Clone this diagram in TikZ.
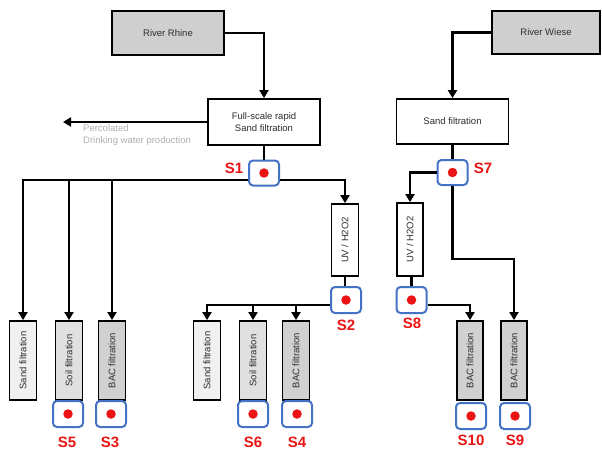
\documentclass[tikz,border=0pt]{standalone}
\usepackage{fontspec}
\setmainfont{Liberation Sans}
\usepackage{graphicx}
\usetikzlibrary{arrows.meta}
\definecolor{sblue}{RGB}{68,114,196}
\definecolor{sred}{RGB}{235,20,20}
\definecolor{txtgray}{RGB}{45,45,45}
\definecolor{percgray}{RGB}{175,175,175}
\begin{document}
\begin{tikzpicture}[x=1pt,y=-1pt,
  proc/.style={draw=black, line width=1.8pt, inner sep=0pt, text=txtgray, font=\fontsize{9.5}{11.5}\selectfont, align=center},
  river/.style={proc, fill=black!19, minimum height=44pt},
  wide/.style={proc, fill=white, minimum width=112pt, minimum height=45pt},
  vbox/.style={proc, minimum width=27pt, minimum height=79pt},
  sandf/.style={vbox, fill=black!6},
  soilf/.style={vbox, fill=black!12},
  bacf/.style={vbox, fill=black!18},
  uvbox/.style={proc, fill=white, minimum width=27pt, minimum height=72pt},
  sample/.style={draw=sblue, line width=2pt, rounded corners=4pt, fill=white, minimum width=30pt, minimum height=25pt, inner sep=0pt},
  dot/.style={circle, fill=sred, minimum size=9.5pt, inner sep=0pt},
  slabel/.style={text=sred, font=\fontsize{15}{15}\selectfont\bfseries, inner sep=0pt},
  conn/.style={line width=2.1pt, draw=black},
  arr/.style={conn, -{Triangle[width=9pt,length=8pt]}}
]
\useasboundingbox (0,0) rectangle (602,450);

% top row
\node[river, minimum width=112pt] (rhine) at (168,33) {River Rhine};
\node[river, minimum width=108pt, minimum height=43pt] (wiese) at (546,32.5) {River Wiese};

\node[wide, minimum height=46pt] (fsrsf) at (264,122) {Full-scale rapid\\Sand filtration};
\node[wide] (sandR) at (452.5,121.5) {Sand filtration};

\coordinate (perc) at (63,122);
\node[anchor=north west, inner sep=0pt, text=percgray, font=\fontsize{9.5}{12}\selectfont, align=left] (perctxt) at (83,124) {Percolated\\Drinking water production};

% sample points
\node[sample] (s1) at (264,173) {};
\node[dot] at (s1) {};
\node[slabel] (l1) at (234,168) {S1};

\node[sample] (s7) at (452.5,172.5) {};
\node[dot] at (s7) {};
\node[slabel] (l7) at (483,168) {S7};

% UV boxes
\node[uvbox] (uv1) at (345,240) {\rotatebox{90}{UV / H2O2}};
\node[sample, minimum height=26pt] (s2) at (346,300) {};
\node[dot] at (s2) {};
\node[slabel] (l2) at (346,325) {S2};

\node[uvbox, minimum width=26pt, minimum height=73pt] (uv2) at (410,239.5) {\rotatebox{90}{UV / H2O2}};
\node[sample, minimum height=26pt] (s8) at (411.5,300) {};
\node[dot] at (s8) {};
\node[slabel] (l8) at (412,323) {S8};

% left group
\node[sandf] (sand1) at (23,360.5) {\rotatebox{90}{Sand filtration}};
\node[soilf] (soil1) at (69,360.5) {\rotatebox{90}{Soil filtration}};
\node[bacf] (bac1) at (112,360.5) {\rotatebox{90}{BAC filtration}};

% middle group
\node[sandf] (sand2) at (207,360.5) {\rotatebox{90}{Sand filtration}};
\node[soilf] (soil2) at (253,360.5) {\rotatebox{90}{Soil filtration}};
\node[bacf] (bac2) at (296,360.5) {\rotatebox{90}{BAC filtration}};

% right group
\node[bacf, minimum width=26pt] (bac3) at (470,360.5) {\rotatebox{90}{BAC filtration}};
\node[bacf, minimum width=26pt] (bac4) at (514,360.5) {\rotatebox{90}{BAC filtration}};

% bottom samples
\node[sample, minimum height=26pt] (s5) at (68,414) {};
\node[dot] at (s5) {};
\node[slabel] (l5) at (67,442) {S5};
\node[sample, minimum height=26pt] (s3) at (111,414) {};
\node[dot] at (s3) {};
\node[slabel] (l3) at (110,442) {S3};
\node[sample, minimum height=26pt] (s6) at (253,414) {};
\node[dot] at (s6) {};
\node[slabel] (l6) at (253,442) {S6};
\node[sample, minimum height=26pt] (s4) at (297,414) {};
\node[dot] at (s4) {};
\node[slabel] (l4) at (297,442) {S4};
\node[sample, minimum height=26pt] (s10) at (471,416) {};
\node[dot] at (s10) {};
\node[slabel] (l10) at (471,440) {S10};
\node[sample, minimum height=26pt] (s9) at (515,416) {};
\node[dot] at (s9) {};
\node[slabel] (l9) at (515,440) {S9};

% helper coordinates for horizontal runs
\coordinate (h1) at (0,180);
\coordinate (h2) at (0,305);
\coordinate (k7) at (452.5,259);

% connectors
\draw[arr] (rhine.east) -| (fsrsf.north);
\draw[arr] (fsrsf.west) -- (perc);
\draw[conn] (fsrsf.south) -- (s1.north);
\draw[arr] (s1.west |- h1) -| (sand1.north);
\draw[arr] (soil1.north |- h1) -- (soil1.north);
\draw[arr] (bac1.north |- h1) -- (bac1.north);
\draw[arr] (s1.east |- h1) -| (uv1.north);
\draw[conn] (uv1.south) -- (uv1.south |- s2.north);
\draw[arr] (s2.west |- h2) -| (sand2.north);
\draw[arr] (soil2.north |- h2) -- (soil2.north);
\draw[arr] (bac2.north |- h2) -- (bac2.north);

\draw[arr] (wiese.west) -| (sandR.north);
\draw[conn] (sandR.south) -- (s7.north);
\draw[arr] (s7.west) -| (uv2.north);
\draw[conn] (uv2.south -| s8.north) -- (s8.north);
\draw[arr] (s7.south) -- (k7) -| (bac4.north);
\draw[arr] (s8.east |- h2) -| (bac3.north);
\end{tikzpicture}
\end{document}
